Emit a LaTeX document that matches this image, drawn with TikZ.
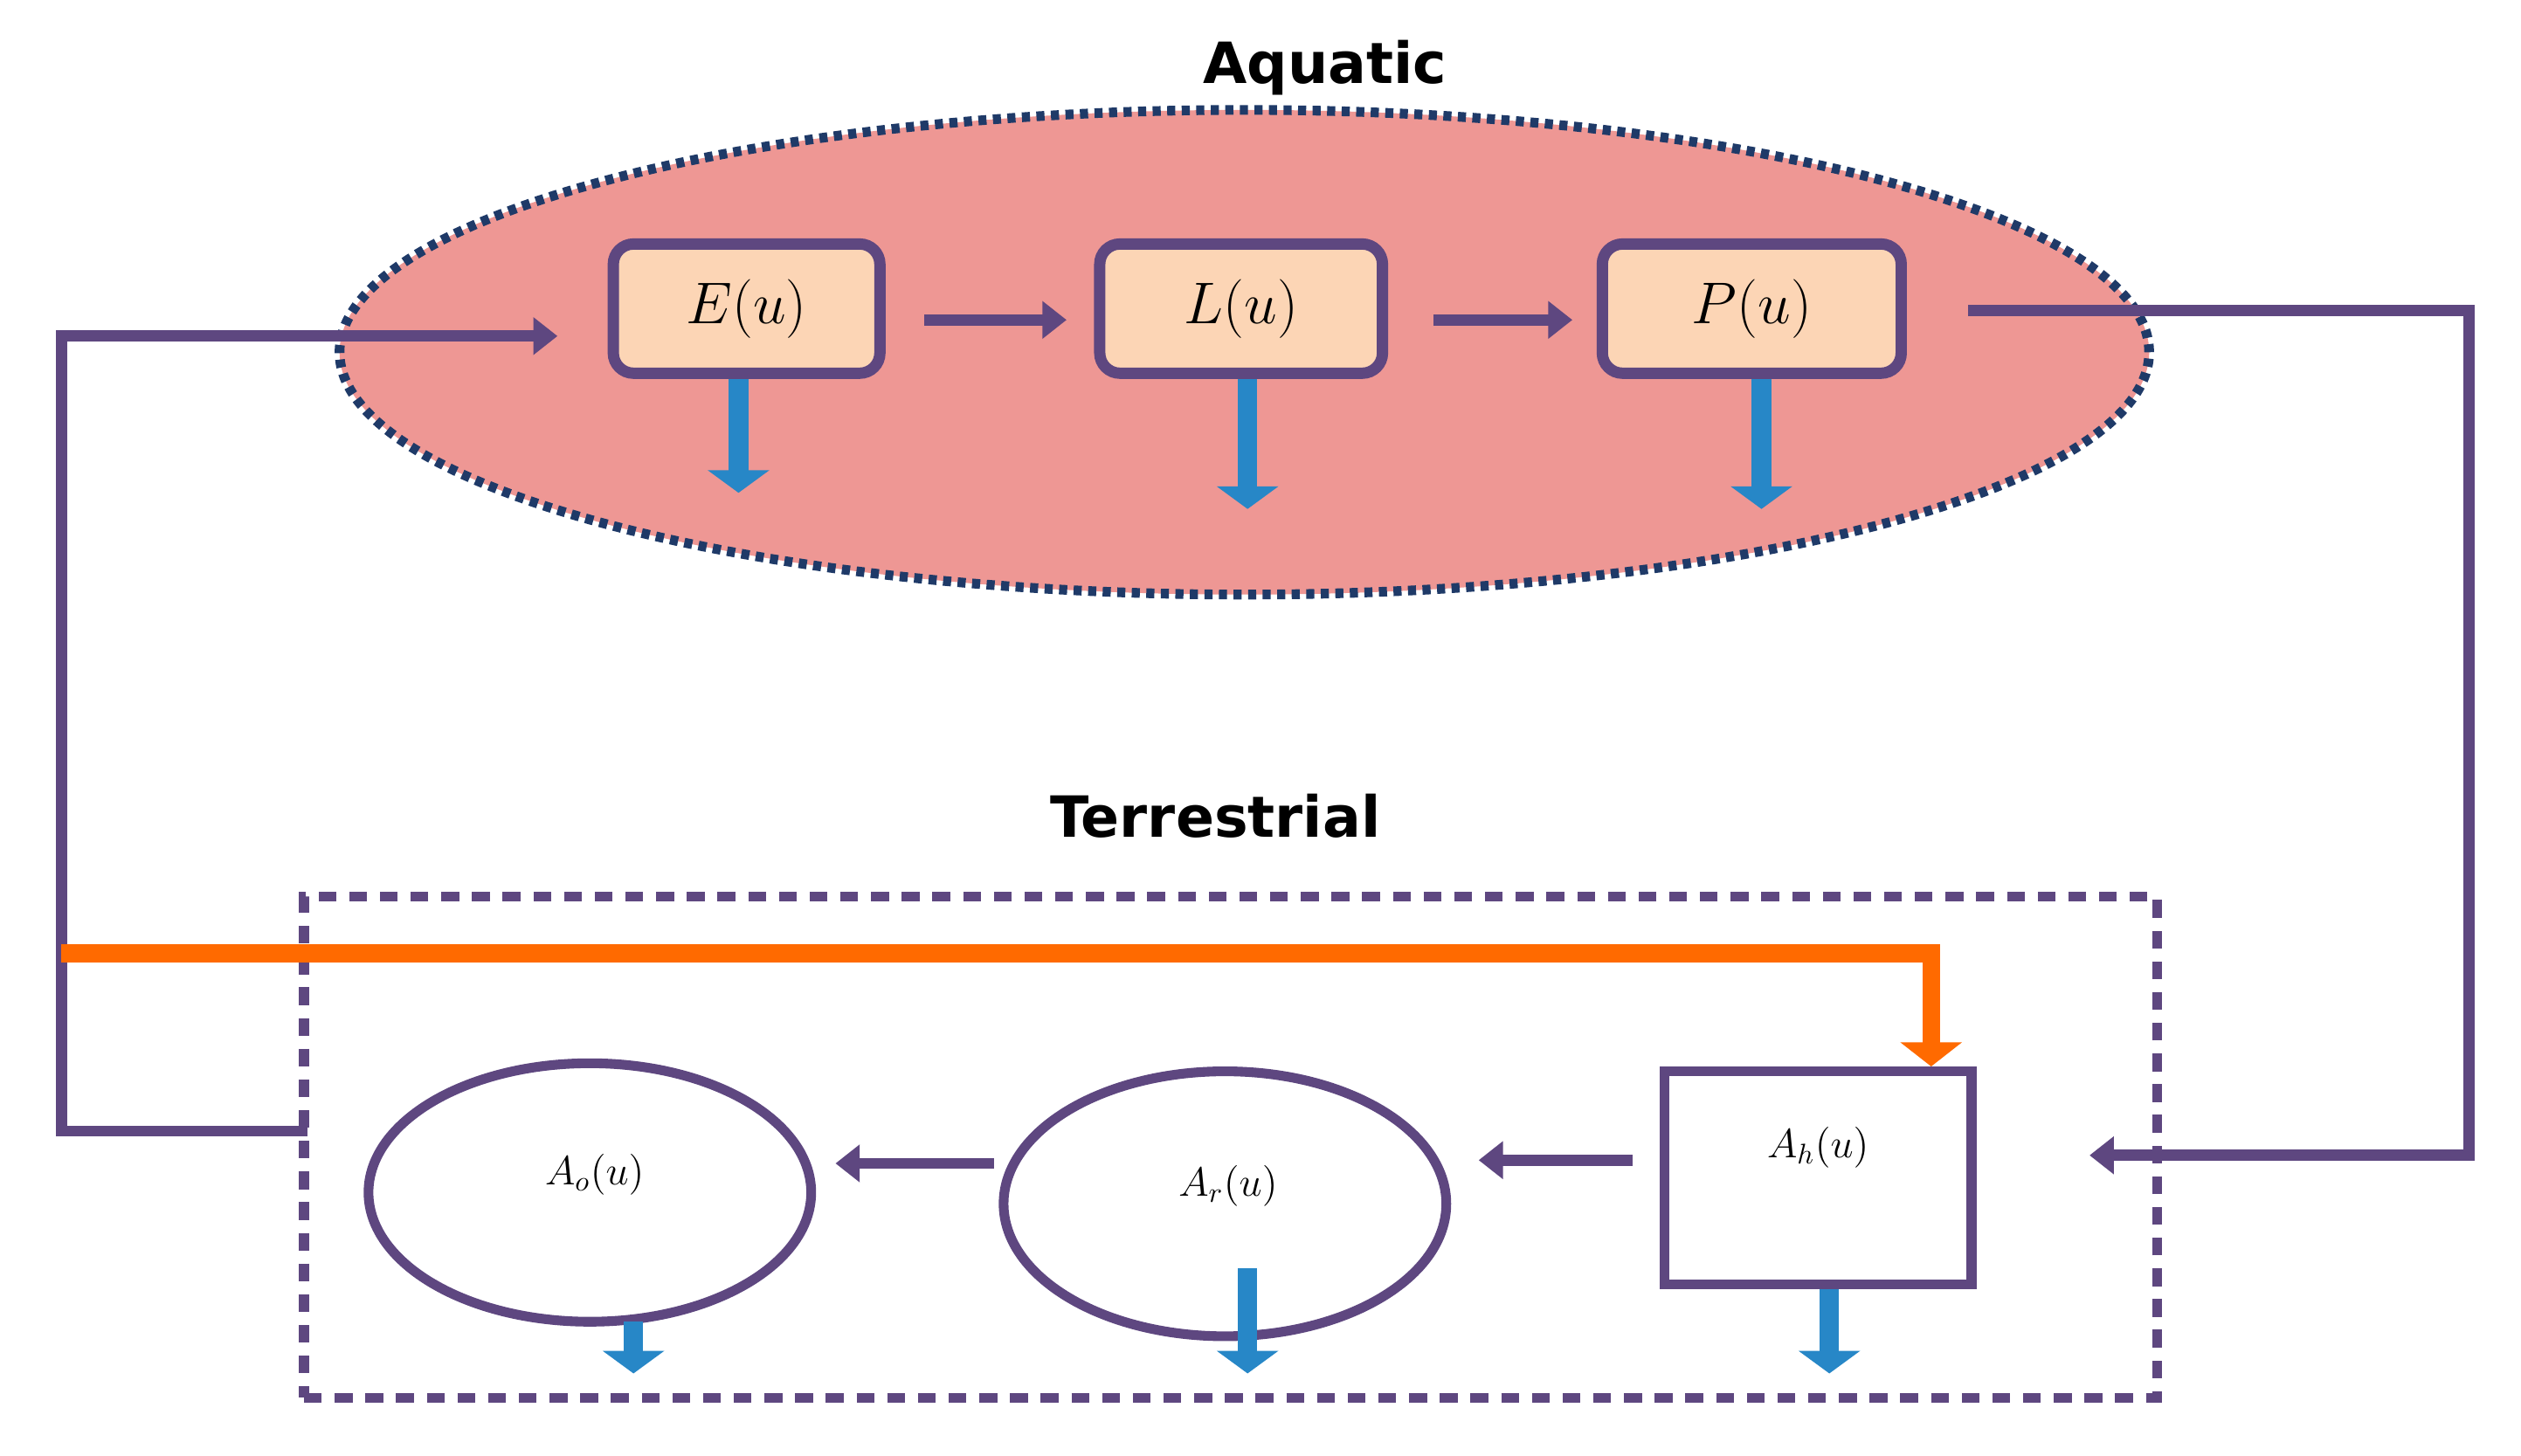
\documentclass[tikz,border=0pt]{standalone}
\usepackage{fontspec}
\newfontfamily\ttl{DejaVu Sans}
\usetikzlibrary{arrows.meta,shapes.geometric}
\definecolor{pur}{HTML}{5E4780}
\definecolor{blu}{HTML}{2787C7}
\definecolor{org}{HTML}{FF6A00}
\definecolor{pink}{HTML}{EE9794}
\definecolor{peach}{HTML}{FCD5B5}
\definecolor{dots}{HTML}{1F3A68}
\begin{document}
\begin{tikzpicture}[x=0.02cm,y=-0.02cm,
 box/.style={draw=pur,line width=0.14cm,fill=peach,rounded corners=0.25cm,minimum height=1.6cm,font=\fontsize{20}{24}\selectfont},
 pl/.style={draw=pur,line width=0.14cm},
 pa/.style={pl,-{Triangle[length=0.3cm,width=0.45cm]}},
 ba/.style={draw=blu,line width=0.24cm,-{Triangle[length=0.28cm,width=0.75cm]}},
 oa/.style={draw=org,line width=0.22cm,-{Triangle[length=0.3cm,width=0.75cm]}},
 ttlf/.style={font=\ttl\bfseries\fontsize{20}{24}\selectfont},
 al/.style={font=\fontsize{14}{16}\selectfont}]
\useasboundingbox (0,0) rectangle (1560,901);
\node[ttlf] (aq) at (820,42) {Aquatic};
\node[ellipse,draw=dots,dash pattern=on 0.1cm off 0.08cm,line width=0.12cm,fill=pink,minimum width=22.4cm,minimum height=6cm] (ell) at (770,218) {};
\node[box,minimum width=3.3cm] (E) at (462,191) {$E(u)$};
\node[box,minimum width=3.5cm] (L) at (768,191) {$L(u)$};
\node[box,minimum width=3.7cm] (P) at (1084,191) {$P(u)$};
\coordinate (e1) at (572,198); \coordinate (e2) at (660,198);
\coordinate (l1) at (887,198); \coordinate (l2) at (973,198);
\draw[pa] (e1) -- (e2);
\draw[pa] (l1) -- (l2);
\foreach \n/\x/\y in {E/457/305,L/772/315,P/1090/315}{
 \coordinate (\n b) at (\x,\y);
 \draw[ba] (\n.south -| \n b) -- (\n b);}
\node[ttlf] (te) at (752,505) {Terrestrial};
\node[draw=pur,dash pattern=on 0.22cm off 0.16cm,line width=0.12cm,minimum width=22.94cm,minimum height=6.2cm] (tr) at (761.5,710) {};
\node[ellipse,draw=pur,line width=0.12cm,minimum width=5.48cm,minimum height=3.2cm,al] (Ao) at (365,738) {};
\node[al] at (368,727) {$A_o(u)$};
\node[ellipse,draw=pur,line width=0.12cm,minimum width=5.48cm,minimum height=3.28cm,al] (Ar) at (758,745) {};
\node[al] at (760,734) {$A_r(u)$};
\node[draw=pur,line width=0.12cm,minimum width=3.8cm,minimum height=2.64cm,al] (Ah) at (1125,729) {};
\node[al] (Ahl) at (1125,710) {$A_h(u)$};
\coordinate (h1) at (1010,718); \coordinate (h2) at (915,718);
\coordinate (r1) at (615,720); \coordinate (r2) at (517,720);
\draw[pa] (h1) -- (h2);
\draw[pa] (r1) -- (r2);
\coordinate (Aot) at (392,818); \coordinate (Aob) at (392,850);
\coordinate (Art) at (772,785); \coordinate (Arb) at (772,850);
\coordinate (Ahb) at (1132,850);
\draw[ba] (Aot) -- (Aob);
\draw[ba] (Art) -- (Arb);
\draw[ba] (Ah.south -| Ahb) -- (Ahb);
\coordinate (lf0) at (190,700); \coordinate (lf1) at (38,700); \coordinate (lf2) at (38,208); \coordinate (lf3) at (345,208);
\draw[pa] (lf0) -- (lf1) -- (lf2) -- (lf3);
\coordinate (rt0) at (1218,192); \coordinate (rt1) at (1528,192); \coordinate (rt2) at (1528,715); \coordinate (rt3) at (1293,715);
\draw[pa] (rt0) -- (rt1) -- (rt2) -- (rt3);
\coordinate (o0) at (38,590); \coordinate (o1) at (1195,590);
\draw[oa] (o0) -- (o1) -- (Ah.north -| o1);
\end{tikzpicture}
\end{document}
